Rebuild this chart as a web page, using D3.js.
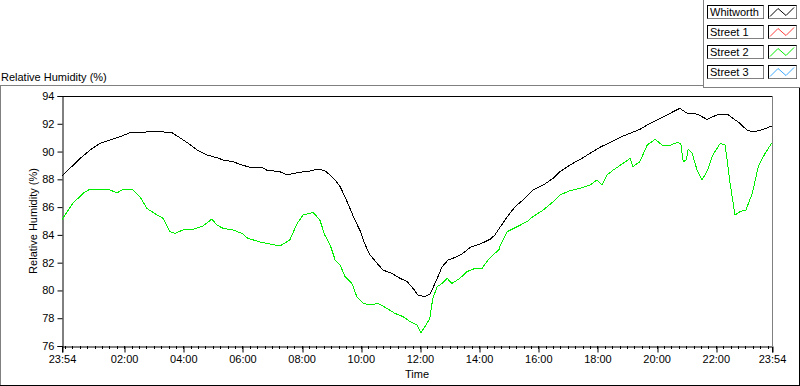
<!DOCTYPE html>
<html>
<head>
<meta charset="utf-8">
<script src="https://cdn.jsdelivr.net/npm/d3@7"></script>
<style>
  body { margin: 0; background: #fff; }
  svg { display: block; font-family: "Liberation Sans", Arial, sans-serif; }
</style>
</head>
<body>
<div id="chart"></div>
<script>
// Series names and legend colours
const seriesNames = ["Whitworth", "Street 1", "Street 2", "Street 3"];
const seriesColors = ["#000000", "#ff3c3c", "#00ee00", "#3caaff"];

// Time axis: minutes after the 23:54 start
const xTickLabels = ["23:54", "02:00", "04:00", "06:00", "08:00", "10:00", "12:00",
                     "14:00", "16:00", "18:00", "20:00", "22:00", "23:54"];
const yTicks = [76, 78, 80, 82, 84, 86, 88, 90, 92, 94];

// Whitworth (black) readings: [minutes after 23:54, RH %]
const whitworth = [
  [0, 88.24], [16, 88.79], [37, 89.51], [57, 90.11], [77, 90.59], [97, 90.83], [118, 91.07],
  [138, 91.36], [164, 91.39], [189, 91.46], [223, 91.36], [239, 91.00], [256, 90.59],
  [274, 90.11], [294, 89.75], [314, 89.56], [327, 89.39], [347, 89.27], [365, 89.03],
  [381, 88.87], [406, 88.84], [416, 88.65], [442, 88.55], [456, 88.31], [477, 88.48],
  [503, 88.60], [519, 88.74], [533, 88.62], [544, 88.31], [554, 87.95], [564, 87.47],
  [574, 86.75], [584, 85.91], [594, 85.07], [604, 84.35], [615, 83.27], [625, 82.55],
  [639, 81.95], [651, 81.47], [669, 81.23], [686, 80.87], [700, 80.63], [712, 80.15],
  [722, 79.67], [736, 79.55], [746, 79.74], [752, 80.15], [761, 80.87], [771, 81.71],
  [783, 82.19], [801, 82.43], [813, 82.67], [828, 83.11], [842, 83.27], [854, 83.44],
  [868, 83.68], [878, 83.99], [886, 84.42], [903, 85.31], [919, 86.03], [935, 86.51],
  [955, 87.23], [976, 87.59], [996, 88.07], [1010, 88.55], [1030, 89.03], [1051, 89.44],
  [1071, 89.87], [1091, 90.31], [1111, 90.64], [1132, 91.03], [1152, 91.31], [1172, 91.60],
  [1193, 92.03], [1213, 92.39], [1233, 92.75], [1253, 93.11], [1268, 92.75], [1288, 92.70],
  [1308, 92.32], [1328, 92.63], [1349, 92.70], [1361, 92.39], [1375, 92.03], [1389, 91.55],
  [1402, 91.41], [1422, 91.60], [1440, 91.84]
];

// Street 2 (green) readings
const street2 = [
  [0, 85.10], [22, 86.27], [43, 87.00], [57, 87.30], [77, 87.30], [97, 87.23], [112, 87.04],
  [124, 87.28], [144, 87.23], [158, 86.75], [172, 85.91], [193, 85.43], [205, 85.19],
  [219, 84.23], [229, 84.11], [245, 84.35], [266, 84.40], [286, 84.64], [304, 85.14],
  [314, 84.71], [327, 84.47], [347, 84.35], [365, 84.11], [377, 83.75], [402, 83.49],
  [422, 83.34], [442, 83.20], [462, 83.63], [477, 84.83], [489, 85.43], [503, 85.55],
  [509, 85.63], [523, 85.07], [533, 83.99], [544, 83.27], [554, 82.19], [564, 81.83],
  [574, 80.99], [588, 80.51], [598, 79.55], [611, 79.07], [625, 78.95], [641, 79.07],
  [659, 78.71], [675, 78.35], [692, 78.11], [706, 77.75], [720, 77.51], [728, 76.96],
  [736, 77.39], [746, 77.99], [752, 79.43], [761, 80.27], [771, 80.51], [781, 80.87],
  [791, 80.51], [807, 80.87], [821, 81.35], [838, 81.59], [852, 81.59], [864, 82.19],
  [874, 82.55], [886, 82.91], [888, 83.15], [903, 84.23], [923, 84.59], [943, 84.95],
  [955, 85.31], [976, 85.79], [996, 86.39], [1010, 86.87], [1030, 87.18], [1051, 87.35],
  [1071, 87.59], [1085, 87.95], [1095, 87.59], [1105, 88.31], [1118, 88.67], [1138, 89.15],
  [1152, 89.51], [1158, 88.91], [1172, 89.27], [1187, 90.47], [1203, 90.88], [1217, 90.47],
  [1229, 90.40], [1247, 90.64], [1255, 90.59], [1260, 89.27], [1266, 89.39], [1270, 90.16],
  [1278, 89.87], [1288, 88.67], [1298, 87.95], [1308, 88.55], [1320, 89.75], [1335, 90.59],
  [1345, 90.47], [1355, 87.71], [1365, 85.43], [1375, 85.67], [1387, 85.79], [1400, 86.99],
  [1412, 88.91], [1426, 89.87], [1440, 90.64]
];

const width = 800;
const height = 386;
const plot = { left: 62, right: 772, top: 96, bottom: 346 };

const toMinutes = label => {
  const [h, m] = label.split(":").map(Number);
  return ((h * 60 + m) - (23 * 60 + 54) + 1440) % 1440;
};
const xTickMinutes = xTickLabels.map((d, i) => i === xTickLabels.length - 1 ? 1440 : toMinutes(d));

const x = d3.scaleLinear().domain([0, 1440]).range([plot.left, plot.right]);
const y = d3.scaleLinear().domain([76, 94]).range([plot.bottom, plot.top]);

const svg = d3.select("#chart")
  .append("svg")
  .attr("width", width)
  .attr("height", height);

// Panel frame
svg.append("line").attr("x1", 0).attr("x2", 704).attr("y1", 85.5).attr("y2", 85.5)
  .attr("stroke", "#808080");
svg.append("line").attr("x1", 0.5).attr("x2", 0.5).attr("y1", 85).attr("y2", 386)
  .attr("stroke", "#808080");
svg.append("line").attr("x1", 0).attr("x2", 800).attr("y1", 385.5).attr("y2", 385.5)
  .attr("stroke", "#000");
svg.append("line").attr("x1", 799.5).attr("x2", 799.5).attr("y1", 88).attr("y2", 386)
  .attr("stroke", "#000");

// Legend frame
svg.append("line").attr("x1", 703.5).attr("x2", 703.5).attr("y1", 0).attr("y2", 88)
  .attr("stroke", "#808080");
svg.append("line").attr("x1", 703).attr("x2", 800).attr("y1", 87.5).attr("y2", 87.5)
  .attr("stroke", "#808080");

// Chart title (top-left)
svg.append("text")
  .attr("x", 1)
  .attr("y", 81)
  .style("font-size", "11px")
  .text("Relative Humidity (%)");

// Plot area
svg.append("rect")
  .attr("x", plot.left).attr("y", plot.top)
  .attr("width", plot.right - plot.left).attr("height", plot.bottom - plot.top)
  .attr("fill", "#fff");

svg.append("line").attr("x1", plot.left).attr("x2", plot.right)
  .attr("y1", plot.top + 0.5).attr("y2", plot.top + 0.5).attr("stroke", "#000");
svg.append("line").attr("x1", plot.right + 0.5).attr("x2", plot.right + 0.5)
  .attr("y1", plot.top).attr("y2", plot.bottom).attr("stroke", "#808080");

// Y axis
const yAxis = svg.append("g")
  .attr("transform", `translate(${plot.left + 0.5}, 0)`)
  .call(d3.axisLeft(y).tickValues(yTicks).tickSize(5).tickPadding(3).tickFormat(d3.format("d")));
yAxis.select(".domain").attr("stroke", "#000");
yAxis.selectAll("line").attr("stroke", "#000");
yAxis.selectAll("text")
  .style("font-size", "11px")
  .style("font-family", "'Liberation Sans', Arial, sans-serif")
  .attr("fill", "#000");

// X axis: minor ticks every 15 min, labelled major ticks
const minorTicks = d3.range(6, 1440, 15);
svg.append("g")
  .selectAll("line")
  .data(minorTicks)
  .enter()
  .append("line")
  .attr("x1", d => Math.round(x(d)) + 0.5)
  .attr("x2", d => Math.round(x(d)) + 0.5)
  .attr("y1", plot.bottom)
  .attr("y2", plot.bottom + 3)
  .attr("stroke", "#000");

const xAxis = svg.append("g")
  .attr("transform", `translate(0, ${plot.bottom + 0.5})`)
  .call(d3.axisBottom(x).tickValues(xTickMinutes).tickSize(6).tickPadding(3)
    .tickFormat((d, i) => xTickLabels[i]));
xAxis.select(".domain").attr("stroke", "#000");
xAxis.selectAll("line")
  .attr("stroke", "#000")
  .attr("transform", d => `translate(${Math.round(x(d)) + 0.5 - x(d)}, 0)`);
xAxis.selectAll("text")
  .style("font-size", "11px")
  .style("font-family", "'Liberation Sans', Arial, sans-serif")
  .attr("fill", "#000");

// Axis titles
svg.append("text")
  .attr("x", (plot.left + plot.right) / 2)
  .attr("y", 378)
  .attr("text-anchor", "middle")
  .style("font-size", "11px")
  .text("Time");

svg.append("text")
  .attr("transform", `translate(37, ${(plot.top + plot.bottom) / 2}) rotate(-90)`)
  .attr("text-anchor", "middle")
  .style("font-size", "11px")
  .text("Relative Humidity (%)");

// Data lines
const line = d3.line()
  .x(d => x(d[0]))
  .y(d => y(d[1]));

svg.append("path")
  .datum(street2)
  .attr("d", line)
  .attr("fill", "none")
  .attr("stroke", seriesColors[2])
  .attr("stroke-width", 1)
  .style("shape-rendering", "crispEdges");

svg.append("path")
  .datum(whitworth)
  .attr("d", line)
  .attr("fill", "none")
  .attr("stroke", seriesColors[0])
  .attr("stroke-width", 1)
  .style("shape-rendering", "crispEdges");

// Legend
const legend = svg.selectAll(".legend")
  .data(seriesNames)
  .enter()
  .append("g")
  .attr("class", "legend")
  .attr("transform", (d, i) => `translate(707, ${5 + i * 20})`);

// name box
legend.append("rect")
  .attr("x", 0.5).attr("y", 0.5)
  .attr("width", 56).attr("height", 13)
  .attr("fill", "#fff")
  .attr("stroke", "#000");
legend.append("path")
  .attr("d", "M56.5,0.5V13.5H0.5")
  .attr("fill", "none")
  .attr("stroke", "#808080");
legend.append("text")
  .attr("x", 3)
  .attr("y", 11)
  .style("font-size", "11px")
  .text(d => d);

// swatch box
legend.append("rect")
  .attr("x", 61.5).attr("y", 0.5)
  .attr("width", 28).attr("height", 13)
  .attr("fill", "#fff")
  .attr("stroke", "#000");
legend.append("path")
  .attr("d", "M89.5,0.5V13.5H61.5")
  .attr("fill", "none")
  .attr("stroke", "#808080");
legend.append("path")
  .attr("d", "M63,11.5L71,3.5L79,10.5L87,2.5")
  .attr("fill", "none")
  .attr("stroke", (d, i) => seriesColors[i])
  .attr("stroke-width", 1);
</script>
</body>
</html>
